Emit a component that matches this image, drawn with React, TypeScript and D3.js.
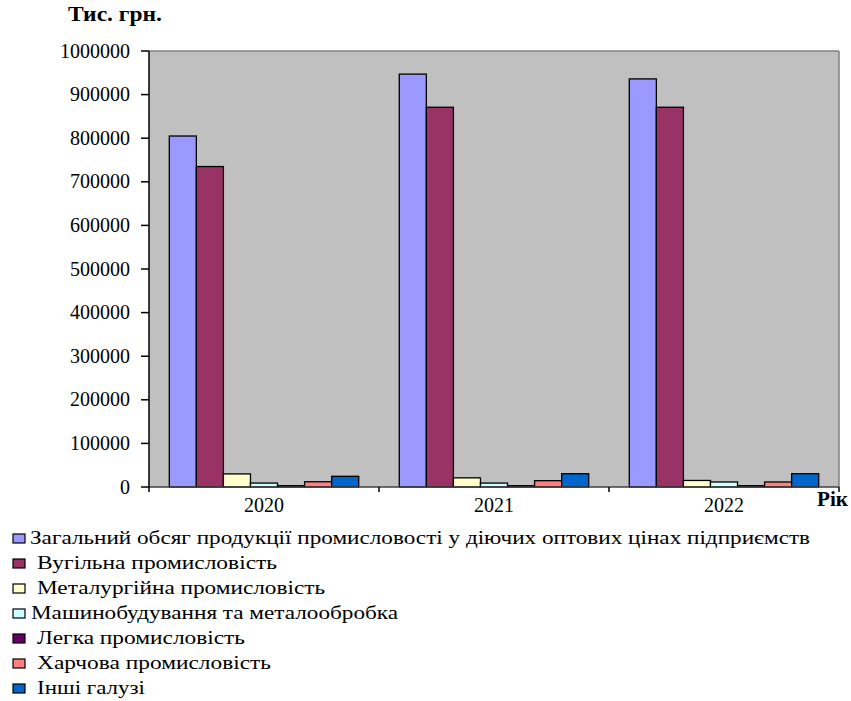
import React from "react";
import * as d3 from "d3";

const years = ["2020", "2021", "2022"];
const seriesNames = [
  "Загальний обсяг продукції промисловості у діючих оптових цінах підприємств",
  "Вугільна промисловість",
  "Металургійна промисловість",
  "Машинобудування та металообробка",
  "Легка промисловість",
  "Харчова промисловість",
  "Інші галузі",
];
const seriesColors = ["#9999FF", "#993366", "#FFFFCC", "#CCFFFF", "#660066", "#FF8080", "#0066CC"];
const totalValues = [805000, 947000, 936000];
const coalValues = [735000, 871000, 871000];
const metalValues = [30000, 21000, 15000];
const machineValues = [9000, 9000, 11500];
const lightValues = [3000, 3000, 3000];
const foodValues = [12000, 14500, 11500];
const otherValues = [24500, 30500, 30500];
const seriesValues = [totalValues, coalValues, metalValues, machineValues, lightValues, foodValues, otherValues];
const yTicks = [0, 100000, 200000, 300000, 400000, 500000, 600000, 700000, 800000, 900000, 1000000];

// layout of legend text (indent and stretched width as in the reference)
const legendX = [30, 37, 37, 31, 37, 37, 37];
const legendW = [780, 240, 288, 367, 208, 234, 108];

const FONT = "Liberation Serif";

export default function App() {
  const left = 149, right = 839, top = 51, bottom = 487;
  const y = d3.scaleLinear().domain([0, 1000000]).range([bottom, top]);
  const x0 = d3.scaleBand<string>().domain(years).range([left, right]).paddingInner(0).paddingOuter(0);
  const bw = x0.bandwidth();
  const gap = bw * (1.5 / 8.5) / 2;
  const x1 = d3.scaleBand<number>().domain(d3.range(seriesNames.length)).range([gap, bw - gap]).padding(0);

  const txt = { fontFamily: FONT, fill: "#000" } as any;

  return (
    <svg width={851} height={701} style={{ position: "absolute", left: 0, top: 0, background: "#fff" }}>
      <rect x={left} y={top} width={right - left} height={bottom - top} fill="#C0C0C0" />
      <line x1={left} x2={right} y1={top} y2={top} stroke="#808080" strokeWidth={1.5} />
      <line x1={right} x2={right} y1={top} y2={bottom} stroke="#808080" strokeWidth={1.5} />
      {years.map((yr, i) =>
        seriesValues.map((vals, s) => (
          <rect
            key={`${i}-${s}`}
            x={x0(yr)! + x1(s)!}
            y={y(vals[i])}
            width={x1.bandwidth()}
            height={bottom - y(vals[i])}
            fill={seriesColors[s]}
            stroke="#000"
            strokeWidth={1.3}
          />
        ))
      )}
      <line x1={left} x2={right} y1={bottom} y2={bottom} stroke="#404040" strokeWidth={1.5} />
      <line x1={left} x2={left} y1={top} y2={bottom} stroke="#000" strokeWidth={1.5} />
      {yTicks.map((t) => (
        <g key={t}>
          <line x1={left - 8} x2={left} y1={y(t)} y2={y(t)} stroke="#000" strokeWidth={1.5} />
          <text x={130} y={y(t) + 6.5} textAnchor="end" fontSize={20} style={txt}>{t}</text>
        </g>
      ))}
      {[...years.map((yr) => x0(yr)!), right].map((xv, i) => (
        <line key={i} x1={xv} x2={xv} y1={bottom} y2={bottom + 5} stroke="#000" strokeWidth={1.5} />
      ))}
      {years.map((yr) => (
        <text key={yr} x={x0(yr)! + bw / 2} y={512} textAnchor="middle" fontSize={20} style={txt}>{yr}</text>
      ))}
      <text x={68} y={21} fontSize={20} fontWeight="bold" textLength={94} lengthAdjust="spacingAndGlyphs" style={txt}>Тис. грн.</text>
      <text x={817} y={506} fontSize={20} fontWeight="bold" textLength={31} lengthAdjust="spacingAndGlyphs" style={txt}>Рік</text>
      {seriesNames.map((name, s) => {
        const cy = 538.5 + s * 25;
        return (
          <g key={name}>
            <rect x={13} y={cy - 4.5} width={12} height={9} fill={seriesColors[s]} stroke="#000" strokeWidth={1.2} />
            <text x={legendX[s]} y={cy + 5} fontSize={19} textLength={legendW[s]} lengthAdjust="spacingAndGlyphs" style={txt}>{name}</text>
          </g>
        );
      })}
    </svg>
  );
}
